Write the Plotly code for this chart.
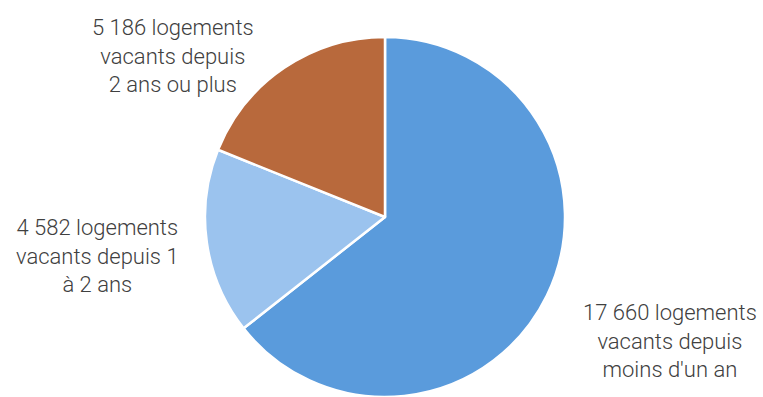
import plotly.graph_objects as go

# Vacant dwellings by duration of vacancy
labels = ["moins d'un an", "1 à 2 ans", "2 ans ou plus"]
values = [17660, 4582, 5186]
label_texts = [
    "17 660 logements<br>vacants depuis<br>moins d'un an",
    "4 582 logements<br>vacants depuis 1<br>à 2 ans",
    "5 186 logements<br>vacants depuis<br>2 ans ou plus",
]
colors = ["#5A9BDC", "#9BC3EE", "#B8693C"]

W, H = 763, 397
TOP = 37
plot_h = H - TOP

fig = go.Figure(go.Pie(
    labels=labels,
    values=values,
    sort=False,
    direction="clockwise",
    rotation=0,
    textinfo="none",
    hoverinfo="label+value",
    marker=dict(colors=colors, line=dict(color="white", width=2.5)),
    domain=dict(x=[(385 - 182) / W, (385 + 182) / W], y=[0, 1]),
    showlegend=False,
))

# label anchor points (pixel centres of each text block)
label_pos = [(670, 341), (97, 256), (173, 56)]
for txt, (px, py) in zip(label_texts, label_pos):
    fig.add_annotation(
        x=px / W, y=(H - py) / plot_h, xref="paper", yref="paper",
        text=txt, showarrow=False, align="center",
        xanchor="center", yanchor="middle",
        font=dict(family="Roboto", size=22, weight=300, color="#404040"),
    )

fig.update_layout(
    width=W, height=H,
    margin=dict(l=0, r=0, t=TOP, b=0),
    paper_bgcolor="white", plot_bgcolor="white",
)

fig.write_html("out.html")
